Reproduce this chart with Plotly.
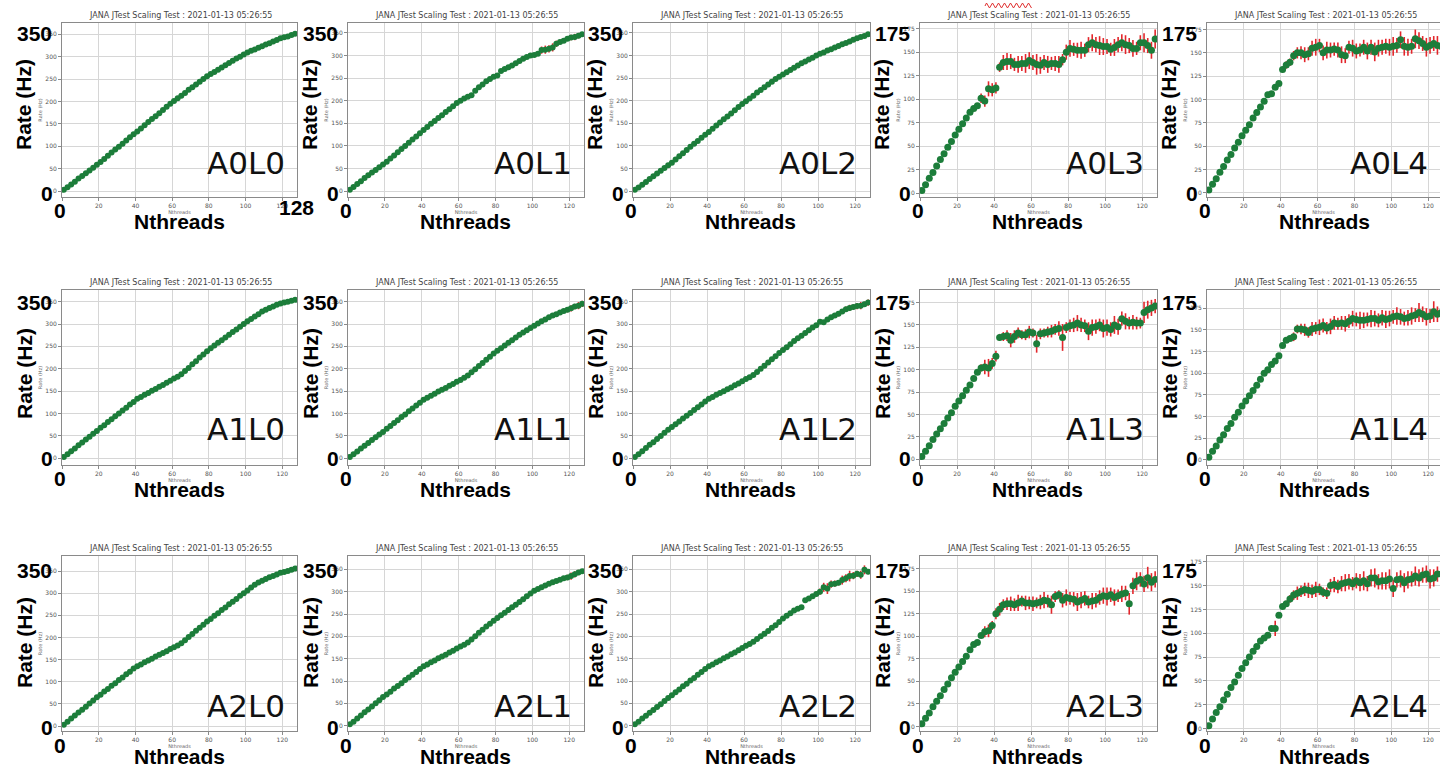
import plotly.graph_objects as go

# ---------------- data ----------------
threads = [1, 3, 5, 7, 9, 11, 13, 15, 17, 19, 21, 23, 25, 27, 29, 31,
           33, 35, 37, 39, 41, 43, 45, 47, 49, 51, 53, 55, 57, 59, 61, 63,
           65, 67, 69, 71, 73, 75, 77, 79, 81, 83, 85, 87, 89, 91, 93, 95,
           97, 99, 101, 103, 105, 107, 109, 111, 113, 115, 117, 119, 121, 123, 125, 127]

a0l0_rate = [3, 9, 15, 21, 28, 34, 40, 46, 52, 59, 65, 72, 79, 86, 93, 99,
             106, 113, 120, 127, 133, 140, 147, 154, 161, 167, 174, 181, 188, 195, 201, 207,
             213, 219, 226, 232, 238, 244, 250, 256, 261, 266, 271, 276, 281, 286, 291, 296,
             300, 305, 309, 313, 316, 320, 323, 327, 330, 334, 337, 341, 343, 345, 348, 351]
a0l0_err = [1, 1, 1, 1, 1, 1, 1, 1, 1, 1, 1, 1, 1, 1, 1, 1,
            1, 1, 1, 1, 1, 1, 1, 1, 1, 1, 1, 1, 1, 1, 1, 1,
            1, 1, 1, 1, 1, 1, 1, 1, 1, 1, 1, 1, 1, 1, 1, 1,
            1, 1, 1, 1, 1, 1, 1, 1, 1, 2, 2, 2, 3, 2, 3, 3]

a0l1_rate = [3, 9, 16, 22, 29, 35, 41, 47, 53, 59, 65, 72, 79, 86, 93, 100,
             107, 114, 121, 128, 135, 142, 149, 155, 162, 168, 175, 181, 188, 195, 200, 205,
             209, 212, 222, 230, 236, 243, 248, 253, 256, 266, 270, 274, 278, 283, 288, 293,
             297, 300, 301, 304, 312, 313, 315, 318, 326, 330, 333, 337, 340, 341, 344, 347]
a0l1_err = [1, 1, 1, 1, 1, 1, 1, 1, 1, 1, 1, 1, 1, 1, 1, 1,
            1, 1, 1, 1, 1, 1, 1, 1, 1, 1, 1, 1, 1, 1, 1, 1,
            1, 1, 1, 1, 1, 1, 1, 1, 2, 2, 2, 2, 2, 2, 2, 2,
            2, 2, 3, 4, 8, 9, 8, 9, 7, 5, 4, 5, 6, 7, 6, 5]

a0l2_rate = [3, 8, 14, 20, 27, 33, 39, 45, 51, 57, 63, 70, 77, 84, 91, 98,
             105, 111, 118, 125, 131, 138, 145, 152, 159, 165, 172, 179, 186, 193, 199, 205,
             211, 218, 224, 230, 236, 242, 248, 253, 258, 263, 268, 273, 278, 283, 287, 291,
             295, 300, 304, 307, 311, 314, 318, 321, 325, 328, 331, 335, 338, 341, 343, 347]
a0l2_err = [1, 1, 1, 1, 1, 1, 1, 1, 1, 1, 1, 1, 1, 1, 1, 1,
            1, 1, 1, 1, 1, 1, 1, 1, 1, 1, 1, 1, 1, 1, 1, 1,
            1, 1, 1, 1, 1, 1, 1, 1, 1, 1, 1, 1, 1, 1, 1, 1,
            1, 2, 2, 2, 2, 3, 2, 2, 2, 3, 3, 3, 3, 3, 3, 3]

a1l0_rate = [3, 9, 16, 22, 29, 35, 42, 48, 55, 61, 68, 74, 81, 87, 94, 100,
             107, 113, 120, 126, 133, 137, 142, 146, 151, 155, 160, 164, 169, 173, 178, 182,
             188, 195, 202, 210, 217, 225, 232, 239, 246, 252, 258, 264, 270, 276, 282, 288,
             294, 300, 306, 311, 317, 322, 328, 332, 336, 339, 343, 346, 348, 350, 352, 354]
a1l0_err = [1, 1, 1, 1, 1, 1, 1, 1, 1, 1, 1, 1, 1, 1, 1, 1,
            1, 1, 1, 1, 1, 1, 1, 1, 1, 1, 1, 1, 1, 1, 1, 1,
            1, 1, 1, 1, 1, 1, 1, 1, 1, 1, 1, 1, 1, 1, 1, 1,
            1, 1, 1, 1, 1, 1, 1, 1, 2, 2, 2, 2, 2, 2, 2, 2]

a1l1_rate = [3, 9, 15, 22, 28, 34, 41, 47, 53, 59, 66, 72, 79, 85, 92, 98,
             105, 111, 118, 124, 131, 135, 140, 144, 149, 153, 157, 162, 166, 171, 175, 180,
             185, 192, 199, 206, 213, 220, 227, 234, 240, 246, 252, 258, 264, 270, 276, 281,
             286, 291, 296, 301, 306, 310, 315, 319, 322, 326, 329, 332, 335, 339, 341, 345]
a1l1_err = [1, 1, 1, 1, 1, 1, 1, 1, 1, 1, 1, 1, 1, 1, 1, 1,
            1, 1, 1, 1, 1, 1, 1, 1, 1, 1, 1, 1, 1, 1, 1, 1,
            1, 1, 1, 1, 1, 1, 1, 1, 1, 1, 1, 1, 1, 1, 1, 1,
            1, 1, 2, 2, 2, 2, 3, 3, 4, 5, 4, 6, 7, 6, 8, 7]

a1l2_rate = [3, 9, 16, 23, 30, 36, 43, 50, 57, 64, 70, 76, 82, 89, 95, 101,
             108, 114, 120, 127, 133, 137, 142, 146, 150, 154, 158, 163, 167, 172, 177, 181,
             186, 193, 200, 207, 214, 221, 228, 235, 242, 248, 255, 262, 268, 274, 280, 286,
             292, 297, 305, 304, 310, 315, 319, 323, 328, 333, 336, 338, 340, 341, 344, 348]
a1l2_err = [1, 1, 1, 1, 1, 1, 1, 1, 1, 1, 1, 1, 1, 1, 1, 1,
            1, 1, 1, 1, 1, 1, 1, 1, 1, 1, 1, 1, 1, 1, 1, 1,
            1, 1, 1, 1, 1, 1, 1, 1, 2, 2, 3, 3, 2, 3, 3, 3,
            3, 4, 5, 4, 5, 4, 5, 6, 5, 6, 7, 6, 7, 8, 6, 7]

a2l0_rate = [3, 10, 17, 24, 31, 37, 44, 51, 58, 65, 71, 78, 84, 91, 97, 104,
             110, 117, 123, 130, 135, 139, 144, 148, 152, 157, 161, 165, 169, 174, 178, 182,
             187, 194, 201, 208, 215, 222, 229, 236, 242, 249, 255, 262, 268, 275, 281, 287,
             294, 300, 306, 313, 319, 324, 328, 332, 336, 339, 342, 346, 348, 350, 353, 356]
a2l0_err = [1, 1, 1, 1, 1, 1, 1, 1, 1, 1, 1, 1, 1, 1, 1, 1,
            1, 1, 1, 1, 1, 1, 1, 1, 1, 1, 1, 1, 1, 1, 1, 1,
            1, 1, 1, 1, 1, 1, 1, 1, 1, 1, 1, 1, 1, 1, 1, 1,
            1, 1, 1, 1, 1, 1, 1, 1, 1, 1, 1, 1, 2, 2, 2, 2]

a2l1_rate = [3, 9, 16, 23, 30, 36, 43, 50, 57, 64, 70, 76, 83, 89, 95, 102,
             108, 114, 120, 127, 133, 137, 142, 146, 151, 155, 159, 164, 168, 173, 177, 181,
             186, 193, 200, 208, 215, 222, 228, 235, 241, 247, 253, 259, 265, 271, 277, 283,
             290, 296, 302, 306, 310, 314, 318, 321, 324, 327, 330, 332, 335, 339, 343, 346]
a2l1_err = [1, 1, 1, 1, 1, 1, 1, 1, 1, 1, 1, 1, 1, 1, 1, 1,
            1, 1, 1, 1, 1, 1, 1, 1, 1, 1, 1, 1, 1, 1, 1, 1,
            1, 1, 1, 1, 1, 1, 1, 1, 1, 1, 1, 1, 1, 1, 1, 1,
            1, 1, 1, 1, 1, 1, 1, 1, 3, 4, 5, 6, 8, 7, 6, 5]

a2l2_rate = [3, 9, 16, 22, 29, 35, 42, 48, 55, 62, 68, 75, 81, 88, 94, 101,
             107, 114, 120, 127, 133, 137, 142, 146, 151, 155, 160, 164, 169, 174, 179, 183,
             188, 194, 200, 206, 212, 219, 225, 232, 240, 246, 252, 258, 262, 265, 281, 285,
             290, 295, 300, 310, 307, 317, 318, 320, 326, 330, 335, 336, 340, 338, 349, 345]
a2l2_err = [1, 1, 1, 1, 1, 1, 1, 1, 1, 1, 1, 1, 1, 1, 1, 1,
            1, 1, 1, 1, 1, 1, 1, 1, 1, 1, 1, 1, 1, 1, 1, 1,
            1, 1, 1, 1, 1, 1, 1, 1, 1, 1, 1, 1, 3, 3, 3, 3,
            5, 6, 7, 10, 12, 8, 7, 6, 10, 9, 12, 8, 7, 9, 10, 6]

a0l3_rate = [3, 9, 16, 22, 29, 36, 42, 49, 55, 62, 68, 74, 80, 86, 90, 93,
             101, 98, 111, 110, 112, 134, 139, 140, 140, 137, 137, 138, 138, 141, 139, 137,
             136, 139, 137, 138, 138, 137, 142, 150, 154, 153, 152, 152, 152, 158, 160, 158,
             157, 156, 156, 153, 155, 158, 160, 158, 157, 154, 154, 160, 160, 157, 152, 164]
a0l3_err = [0.5, 0.5, 0.5, 0.5, 0.5, 0.5, 0.5, 0.5, 0.5, 0.5, 0.5, 0.5, 0.5, 0.5, 0.5, 0.5,
            5, 6, 8, 7, 6, 5, 8, 9, 8, 7, 9, 8, 10, 9, 8, 11,
            9, 8, 9, 7, 8, 9, 6, 8, 9, 7, 8, 9, 7, 8, 9, 8,
            10, 9, 8, 7, 9, 8, 9, 10, 8, 9, 7, 8, 10, 8, 9, 10]

a0l4_rate = [3, 9, 15, 22, 28, 35, 41, 48, 54, 61, 67, 73, 80, 86, 92, 98,
             105, 106, 113, 117, 132, 137, 140, 147, 150, 150, 148, 149, 155, 156, 158, 150,
             153, 153, 154, 153, 148, 147, 156, 155, 152, 153, 156, 152, 156, 151, 155, 156,
             157, 156, 157, 158, 164, 157, 156, 157, 165, 163, 160, 156, 158, 160, 158, 157]
a0l4_err = [0.5, 0.5, 0.5, 0.5, 0.5, 0.5, 0.5, 0.5, 0.5, 0.5, 0.5, 0.5, 0.5, 0.5, 0.5, 0.5,
            1, 1, 2, 2, 3, 4, 4, 5, 6, 7, 8, 7, 8, 9, 7, 8,
            9, 8, 7, 8, 9, 8, 7, 9, 8, 7, 8, 9, 8, 10, 9, 8,
            8, 9, 10, 8, 9, 10, 9, 8, 10, 9, 8, 10, 9, 8, 10, 9]

a1l3_rate = [3, 9, 15, 22, 28, 34, 40, 46, 52, 59, 65, 71, 77, 83, 90, 97,
             102, 103, 102, 107, 115, 136, 137, 138, 133, 137, 141, 139, 139, 142, 141, 129,
             140, 141, 142, 143, 145, 146, 136, 147, 149, 150, 152, 150, 149, 143, 147, 148,
             150, 146, 147, 145, 150, 148, 157, 154, 152, 153, 152, 152, 164, 167, 169, 171]
a1l3_err = [0.5, 0.5, 0.5, 0.5, 0.5, 0.5, 0.5, 0.5, 0.5, 0.5, 0.5, 0.5, 0.5, 0.5, 0.5, 0.5,
            4, 8, 10, 6, 6, 4, 5, 6, 8, 7, 6, 5, 6, 7, 5, 10,
            6, 5, 6, 7, 6, 8, 15, 6, 7, 8, 9, 8, 7, 10, 9, 8,
            7, 10, 9, 8, 10, 9, 8, 9, 7, 8, 7, 6, 12, 10, 9, 8]

a1l4_rate = [3, 10, 16, 23, 29, 36, 42, 49, 55, 62, 68, 74, 80, 86, 93, 100,
             104, 110, 114, 120, 132, 138, 140, 142, 151, 151, 150, 147, 151, 152, 153, 155,
             152, 154, 158, 157, 158, 157, 160, 163, 162, 161, 161, 162, 163, 163, 161, 164,
             162, 163, 165, 166, 165, 163, 164, 166, 167, 170, 168, 165, 166, 171, 168, 170]
a1l4_err = [0.5, 0.5, 0.5, 0.5, 0.5, 0.5, 0.5, 0.5, 0.5, 0.5, 0.5, 0.5, 0.5, 0.5, 0.5, 0.5,
            1, 1, 1, 2, 2, 3, 3, 5, 5, 6, 7, 6, 8, 7, 9, 8,
            7, 9, 8, 7, 8, 9, 8, 9, 8, 10, 9, 8, 10, 9, 8, 9,
            10, 9, 8, 10, 9, 8, 9, 10, 8, 11, 9, 10, 8, 12, 9, 10]

a2l3_rate = [3, 9, 15, 22, 28, 34, 41, 47, 54, 60, 66, 72, 78, 85, 91, 93,
             101, 105, 106, 112, 125, 130, 135, 136, 136, 135, 137, 139, 137, 137, 136, 137,
             138, 140, 139, 135, 144, 146, 140, 143, 142, 141, 138, 140, 142, 138, 139, 140,
             143, 145, 144, 146, 143, 145, 147, 148, 136, 156, 161, 163, 158, 165, 160, 163]
a2l3_err = [0.5, 0.5, 0.5, 0.5, 0.5, 0.5, 0.5, 0.5, 0.5, 0.5, 0.5, 0.5, 0.5, 0.5, 0.5, 0.5,
            3, 6, 7, 5, 6, 7, 6, 7, 8, 7, 9, 6, 8, 7, 8, 6,
            8, 9, 7, 10, 6, 5, 8, 9, 7, 8, 10, 9, 8, 7, 9, 8,
            8, 9, 10, 8, 9, 7, 9, 8, 12, 9, 10, 8, 9, 12, 10, 9]

a2l4_rate = [3, 10, 17, 23, 30, 36, 43, 49, 56, 63, 69, 75, 81, 86, 92, 95,
             98, 105, 105, 119, 128, 131, 136, 140, 142, 144, 146, 145, 144, 146, 146, 143,
             142, 150, 151, 149, 152, 153, 154, 152, 155, 153, 155, 152, 158, 158, 154, 155,
             155, 157, 147, 156, 157, 153, 156, 157, 160, 158, 161, 162, 157, 158, 162, 162]
a2l4_err = [0.5, 0.5, 0.5, 0.5, 0.5, 0.5, 0.5, 0.5, 0.5, 0.5, 0.5, 0.5, 0.5, 0.5, 0.5, 0.5,
            1, 2, 8, 1, 2, 3, 4, 5, 7, 6, 7, 8, 7, 8, 6, 5,
            6, 7, 8, 7, 8, 9, 8, 7, 8, 9, 10, 8, 9, 10, 8, 9,
            9, 10, 9, 8, 9, 10, 9, 8, 10, 9, 8, 9, 10, 9, 8, 9]

panel_names = ["A0L0", "A0L1", "A0L2", "A0L3", "A0L4",
               "A1L0", "A1L1", "A1L2", "A1L3", "A1L4",
               "A2L0", "A2L1", "A2L2", "A2L3", "A2L4"]
panel_rates = [a0l0_rate, a0l1_rate, a0l2_rate, a0l3_rate, a0l4_rate,
               a1l0_rate, a1l1_rate, a1l2_rate, a1l3_rate, a1l4_rate,
               a2l0_rate, a2l1_rate, a2l2_rate, a2l3_rate, a2l4_rate]
panel_errs = [a0l0_err, a0l1_err, a0l2_err, a0l3_err, a0l4_err,
              a1l0_err, a1l1_err, a1l2_err, a1l3_err, a1l4_err,
              a2l0_err, a2l1_err, a2l2_err, a2l3_err, a2l4_err]
panel_yranges = [[-13, 375], [-13, 372], [-13, 372], [-4, 181], [-4.6, 182],
                 [-15, 376], [-15, 376], [-15, 376], [-6.5, 189], [-6, 196],
                 [-11, 384], [-12, 380], [-12, 380], [-5, 189], [-2.5, 181]]
panel_top_label = ["350", "350", "350", "175", "175"] * 3
title_text = "JANA JTest Scaling Test : 2021-01-13 05:26:55"

# ---------------- layout geometry (pixels) ----------------
W, H = 1440, 767
col_px = [(62, 297), (348, 584), (633, 870), (920, 1157), (1207, 1440)]
col_xmax = [128, 128, 128, 128, 126.4]
row_px = [(23, 197), (290, 465), (556, 731)]
row_top_label_y = [33, 302, 570]
row_rate_y = [105, 374, 643]
row_y0_y = [193, 458, 727]
row_x0_y = [210, 478, 745]
row_nthreads_y = [222, 490, 756]
row_panel_label_dy = [34, 36, 25]


def px(x):
    return x / W


def py(y):
    return 1 - y / H


GREEN = "#1c7d3a"
RED = "#e3262b"
BIG = "Liberation Sans, Arial, sans-serif"
SMALL = "DejaVu Sans, sans-serif"

fig = go.Figure()
annotations = []

for i, name in enumerate(panel_names):
    r, c = divmod(i, 5)
    n = i + 1
    xa = "x" if n == 1 else f"x{n}"
    ya = "y" if n == 1 else f"y{n}"
    l3 = c >= 3
    fig.add_trace(go.Scatter(
        x=threads, y=panel_rates[i],
        error_y=dict(type="data", array=panel_errs[i], color=RED, thickness=1.6, width=0),
        mode="markers",
        marker=dict(color=GREEN, size=7 if l3 else 6),
        xaxis=xa, yaxis=ya, showlegend=False, hoverinfo="x+y"))

    x0, x1 = col_px[c]
    yt, yb = row_px[r]
    axis_common = dict(
        showgrid=True, gridcolor="#d6d6d6", gridwidth=1,
        showline=True, linecolor="#8a8a8a", linewidth=1,
        ticks="outside", ticklen=3, tickcolor="#8a8a8a",
        tickfont=dict(family=SMALL, size=6, color="#555555"),
        zeroline=False, fixedrange=True,
    )
    fig.layout[f"xaxis{'' if n == 1 else n}"] = dict(
        axis_common,
        domain=[px(x0), px(x1)], anchor=ya, range=[0, col_xmax[c]],
        tickmode="array", tickvals=[0, 20, 40, 60, 80, 100, 120],
        ticktext=["", "20", "40", "60", "80", "100", "120"],
        mirror=True,
        title=dict(text="Nthreads", font=dict(family=SMALL, size=5, color="#666666"), standoff=1),
    )
    fig.layout[f"yaxis{'' if n == 1 else n}"] = dict(
        axis_common,
        domain=[py(yb), py(yt)], anchor=xa, range=panel_yranges[i],
        dtick=25 if l3 else 50, tick0=0,
        mirror=(c != 4),
        title=dict(text="Rate (Hz)", font=dict(family=SMALL, size=5, color="#666666"), standoff=2),
    )

    # small matplotlib-like title
    annotations.append(dict(
        x=px((x0 + x0 + 236) / 2), y=py(yt - 8), xref="paper", yref="paper",
        xanchor="center", yanchor="middle",
        text=title_text, showarrow=False,
        font=dict(family=SMALL, size=8, color="#444444")))

    # big overlaid labels
    big = dict(family=BIG, size=21, color="black")
    annotations.append(dict(
        x=px(x0 - 8), y=py(row_top_label_y[r]), xref="paper", yref="paper",
        xanchor="right", yanchor="middle", text=f"<b>{panel_top_label[i]}</b>",
        showarrow=False, font=big))
    annotations.append(dict(
        x=px(x0 - 7), y=py(row_y0_y[r]), xref="paper", yref="paper",
        xanchor="right", yanchor="middle", text="<b>0</b>", showarrow=False, font=big))
    annotations.append(dict(
        x=px(x0 - 2), y=py(row_x0_y[r]), xref="paper", yref="paper",
        xanchor="center", yanchor="middle", text="<b>0</b>", showarrow=False, font=big))
    annotations.append(dict(
        x=px(x0 - 38), y=py(row_rate_y[r]), xref="paper", yref="paper",
        xanchor="center", yanchor="middle", text="<b>Rate (Hz)</b>", textangle=-90,
        showarrow=False, font=big))
    annotations.append(dict(
        x=px(x0 + 117), y=py(row_nthreads_y[r]), xref="paper", yref="paper",
        xanchor="center", yanchor="middle", text="<b>Nthreads</b>", showarrow=False, font=big))
    annotations.append(dict(
        x=px(min(x1, x0 + 236) - 10), y=py(yb - row_panel_label_dy[r]), xref="paper", yref="paper",
        xanchor="right", yanchor="middle", text=name, showarrow=False,
        font=dict(family="DejaVu Sans, sans-serif", size=31, color="#111111")))

# the "128" that appears only on the first panel
annotations.append(dict(
    x=px(296), y=py(208), xref="paper", yref="paper", xanchor="center", yanchor="middle",
    text="<b>128</b>", showarrow=False, font=dict(family=BIG, size=21, color="black")))

# small red spell-check squiggle above the A0L3 title
squiggle = "M 985 6" + "".join(
    f" L {985 + 3 * k + 1.5} {3 if k % 2 == 0 else 8}" for k in range(16))
fig.add_shape(type="path", xref="paper", yref="paper",
              path=" ".join(
                  (f"{px(float(t))}" if j % 3 == 1 else (f"{py(float(t))}" if j % 3 == 2 else t))
                  for j, t in enumerate(squiggle.split())),
              line=dict(color="#e03030", width=1))

fig.update_layout(
    width=W, height=H, autosize=False,
    margin=dict(l=0, r=0, t=0, b=0),
    paper_bgcolor="white", plot_bgcolor="white",
    annotations=annotations,
    showlegend=False,
)

fig.write_html("out.html", include_plotlyjs=True,
               config={"displayModeBar": False},
               post_script="document.body.style.margin='0';document.body.style.overflow='hidden';")
